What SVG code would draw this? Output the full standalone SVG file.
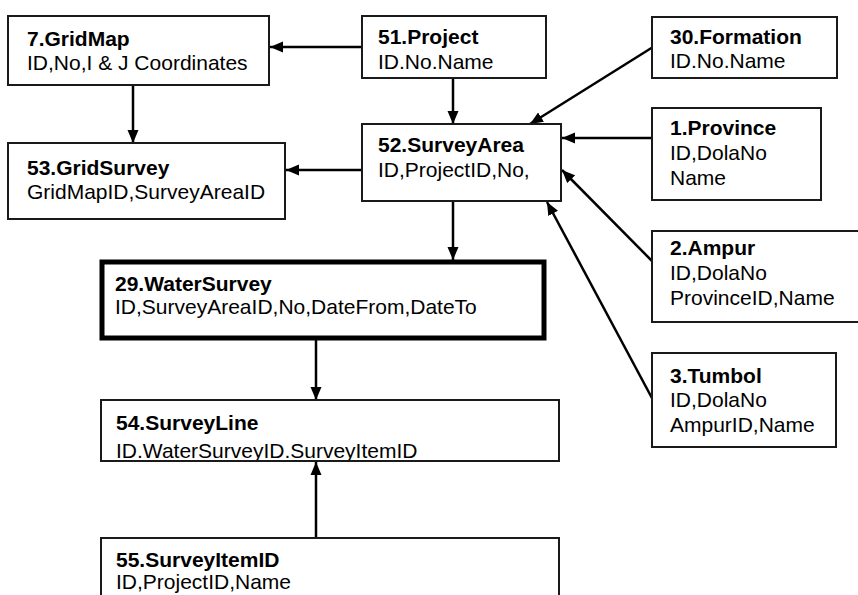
<svg xmlns="http://www.w3.org/2000/svg" width="858" height="595" viewBox="0 0 858 595">
  <defs>
    <marker id="ah" markerUnits="userSpaceOnUse" markerWidth="13" markerHeight="12" viewBox="0 0 13 12" refX="13" refY="6" orient="auto">
      <path d="M0,0.5 L13,6 L0,11.5 z" fill="#000"/>
    </marker>
    <clipPath id="clipLine"><rect x="101" y="400" width="458" height="60"/></clipPath>
  </defs>
  <style>
    .box { fill: #fff; stroke: #1a1a1a; stroke-width: 2; }
    .thick { stroke-width: 5; stroke: #000; }
    .t { font-family: "Liberation Sans", Arial, sans-serif; font-size: 21px; fill: #000; }
    .b { font-weight: bold; }
    .c { stroke: #000; stroke-width: 2.5; fill: none; marker-end: url(#ah); }
  </style>
  <rect width="858" height="595" fill="#fff"/>

  <g id="connectors">
    <line class="c" x1="362" y1="47" x2="270" y2="47"/>
    <line class="c" x1="133" y1="85" x2="133" y2="143"/>
    <line class="c" x1="453" y1="78" x2="453" y2="124"/>
    <line class="c" x1="362" y1="170" x2="286" y2="170"/>
    <line class="c" x1="653" y1="47" x2="530" y2="124"/>
    <line class="c" x1="652" y1="138" x2="562" y2="138"/>
    <line class="c" x1="653" y1="262" x2="562" y2="170"/>
    <line class="c" x1="653" y1="400" x2="547" y2="202"/>
    <line class="c" x1="453" y1="201" x2="453" y2="260"/>
    <line class="c" x1="316" y1="340" x2="316" y2="400"/>
    <line class="c" x1="316" y1="538" x2="316" y2="462"/>
  </g>

  <g id="n7">
    <rect class="box" x="8" y="16" width="261" height="69"/>
    <text class="t b" x="27" y="46">7.GridMap</text>
    <text class="t" x="27" y="70">ID,No,I &amp; J Coordinates</text>
  </g>
  <g id="n53">
    <rect class="box" x="8" y="143" width="277" height="76"/>
    <text class="t b" x="27" y="175">53.GridSurvey</text>
    <text class="t" x="27" y="199">GridMapID,SurveyAreaID</text>
  </g>
  <g id="n51">
    <rect class="box" x="362" y="16" width="184" height="62"/>
    <text class="t b" x="378" y="44">51.Project</text>
    <text class="t" x="378" y="69">ID.No.Name</text>
  </g>
  <g id="n52">
    <rect class="box" x="362" y="124" width="199" height="77"/>
    <text class="t b" x="378" y="152">52.SurveyArea</text>
    <text class="t" x="378" y="177">ID,ProjectID,No,</text>
  </g>
  <g id="n30">
    <rect class="box" x="652" y="17" width="185" height="61"/>
    <text class="t b" x="670" y="44">30.Formation</text>
    <text class="t" x="670" y="68">ID.No.Name</text>
  </g>
  <g id="n1">
    <rect class="box" x="652" y="108" width="169" height="92"/>
    <text class="t b" x="670" y="135">1.Province</text>
    <text class="t" x="670" y="160">ID,DolaNo</text>
    <text class="t" x="670" y="185">Name</text>
  </g>
  <g id="n2">
    <rect class="box" x="652" y="231" width="220" height="91"/>
    <text class="t b" x="670" y="255">2.Ampur</text>
    <text class="t" x="670" y="280">ID,DolaNo</text>
    <text class="t" x="670" y="305">ProvinceID,Name</text>
  </g>
  <g id="n3">
    <rect class="box" x="652" y="353" width="184" height="94"/>
    <text class="t b" x="670" y="383">3.Tumbol</text>
    <text class="t" x="670" y="407">ID,DolaNo</text>
    <text class="t" x="670" y="432">AmpurID,Name</text>
  </g>
  <g id="n29">
    <rect class="box thick" x="102" y="262" width="442" height="76"/>
    <text class="t b" x="115" y="291">29.WaterSurvey</text>
    <text class="t" x="115" y="314">ID,SurveyAreaID,No,DateFrom,DateTo</text>
  </g>
  <g id="n54">
    <rect class="box" x="101" y="400" width="458" height="61"/>
    <text class="t b" x="116" y="430">54.SurveyLine</text>
    <text class="t" x="116" y="458" clip-path="url(#clipLine)">ID.WaterSurveyID.SurveyItemID</text>
  </g>
  <g id="n55">
    <rect class="box" x="101" y="538" width="458" height="70"/>
    <text class="t b" x="116" y="567">55.SurveyItemID</text>
    <text class="t" x="116" y="589">ID,ProjectID,Name</text>
  </g>
</svg>
